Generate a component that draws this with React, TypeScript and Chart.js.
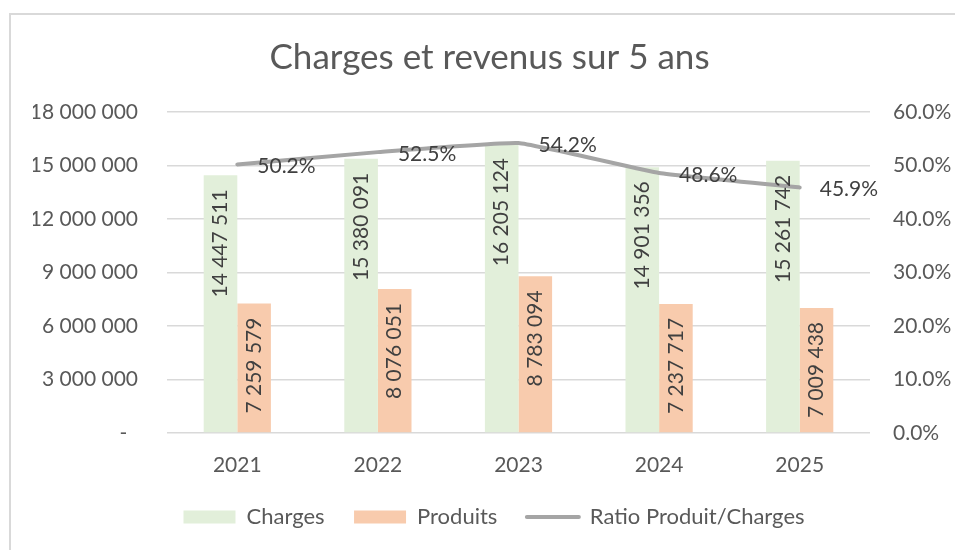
import React, { useEffect, useRef } from 'react';
import { Chart, registerables } from 'chart.js';

Chart.register(...registerables);

const years = ['2021', '2022', '2023', '2024', '2025'];
const charges = [14447511, 15380091, 16205124, 14901356, 15261742];
const produits = [7259579, 8076051, 8783094, 7237717, 7009438];
const ratio = [0.502, 0.525, 0.542, 0.486, 0.459];
const leftTickLabels = ['-  ', '3 000 000', '6 000 000', '9 000 000', '12 000 000', '15 000 000', '18 000 000'];
const rightTickLabels = ['0.0%', '10.0%', '20.0%', '30.0%', '40.0%', '50.0%', '60.0%'];

const FONT = 'Lato';
const GREEN = '#E2EFDA';
const ORANGE = '#F8CBAD';
const GRAY = '#A5A5A5';
const TEXT = '#595959';
const LABEL = '#404040';

const fmt = (n: number) => String(n).replace(/\B(?=(\d{3})+(?!\d))/g, ' ');

const labelPlugin = {
  id: 'valueLabels',
  afterDatasetsDraw(chart: any) {
    const ctx = chart.ctx;
    ctx.save();
    ctx.font = `21px ${FONT}`;
    ctx.fillStyle = LABEL;
    chart.data.datasets.forEach((ds: any, di: number) => {
      const meta = chart.getDatasetMeta(di);
      if (meta.hidden) return;
      meta.data.forEach((el: any, i: number) => {
        const v = ds.data[i];
        if (ds.type === 'line') {
          ctx.textAlign = 'left';
          ctx.textBaseline = 'middle';
          ctx.fillText((v * 100).toFixed(1) + '%', el.x + 20, el.y + 2);
        } else {
          ctx.save();
          ctx.translate(el.x, el.y + 14);
          ctx.rotate(-Math.PI / 2);
          ctx.textAlign = 'right';
          ctx.textBaseline = 'middle';
          ctx.fillText(fmt(v), 0, 0);
          ctx.restore();
        }
      });
    });
    ctx.restore();
  },
};

export default function App() {
  const ref = useRef<HTMLCanvasElement>(null);
  useEffect(() => {
    if (!ref.current) return;
    const chart = new Chart(ref.current, {
      type: 'bar',
      data: {
        labels: years,
        datasets: [
          { type: 'bar', label: 'Charges', data: charges, backgroundColor: GREEN, borderWidth: 0, yAxisID: 'y', order: 1 },
          { type: 'bar', label: 'Produits', data: produits, backgroundColor: ORANGE, borderWidth: 0, yAxisID: 'y', order: 1 },
          {
            type: 'line', label: 'Ratio Produit/Charges', data: ratio, borderColor: GRAY, backgroundColor: GRAY,
            borderWidth: 4, pointRadius: 0, tension: 0.1, yAxisID: 'y1', order: 0, borderCapStyle: 'round',
          } as any,
        ],
      },
      options: {
        animation: false,
        responsive: false,
        maintainAspectRatio: false,
        layout: { padding: { left: 22, right: 0, top: 0, bottom: 12 } },
        datasets: { bar: { categoryPercentage: 0.478, barPercentage: 1.0 } },
        plugins: {
          tooltip: { enabled: false },
          title: {
            display: true,
            text: 'Charges et revenus sur 5 ans ',
            color: TEXT,
            font: { family: FONT, size: 35, weight: 'normal' },
            padding: { top: 22, bottom: 33 },
          },
          legend: {
            position: 'bottom',
            labels: {
              color: TEXT,
              font: { family: FONT, size: 22 },
              usePointStyle: true,
              pointStyleWidth: 52,
              boxHeight: 13,
              padding: 29.5,
              sort: (a: any, b: any) => a.datasetIndex - b.datasetIndex,
              generateLabels: (c: any) => {
                const items = (Chart.defaults.plugins.legend.labels as any).generateLabels(c);
                return items.map((it: any) => {
                  const ds = c.data.datasets[it.datasetIndex];
                  if (ds.type === 'line') {
                    return { ...it, pointStyle: 'line', lineWidth: 4, strokeStyle: GRAY, fillStyle: GRAY, lineCap: 'round' };
                  }
                  return { ...it, pointStyle: 'rect', lineWidth: 0 };
                });
              },
            },
          },
        },
        scales: {
          x: {
            grid: { display: false, drawTicks: false },
            border: { display: false },
            ticks: { color: TEXT, font: { family: FONT, size: 21 }, padding: 19.4 },
            afterFit: (s: any) => { s.height = 43.5; },
          },
          y: {
            position: 'left',
            min: 0,
            max: 18000000,
            border: { display: false },
            grid: { color: '#D9D9D9', lineWidth: 1.5, drawTicks: false },
            ticks: {
              stepSize: 3000000,
              color: TEXT,
              font: { family: FONT, size: 21 },
              padding: 29,
              callback: (_v: any, i: number) => leftTickLabels[i],
            },
            afterFit: (s: any) => { s.width = 134; },
          },
          y1: {
            position: 'right',
            min: 0,
            max: 0.6,
            border: { display: false },
            grid: { display: false, drawTicks: false },
            ticks: {
              stepSize: 0.1,
              color: TEXT,
              font: { family: FONT, size: 21 },
              padding: 23,
              callback: (_v: any, i: number) => rightTickLabels[i],
            },
            afterFit: (s: any) => { s.width = 85; },
          },
        },
      },
      plugins: [labelPlugin],
    } as any);
    return () => chart.destroy();
  }, []);

  return (
    <div
      style={{
        position: 'fixed', left: 9, top: 13, width: 946, height: 537,
        borderTop: '2px solid #D9D9D9', borderLeft: '2px solid #D9D9D9', boxSizing: 'border-box', background: '#fff',
      }}
    >
      <canvas ref={ref} width={944} height={535} style={{ display: 'block', width: 944, height: 535 }} />
    </div>
  );
}
